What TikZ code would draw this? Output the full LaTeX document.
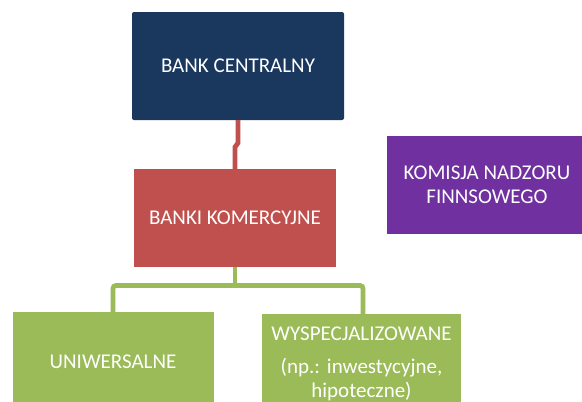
\documentclass[tikz,border=0pt]{standalone}
\usepackage{fontspec}
\setmainfont{Carlito}
\frenchspacing
\definecolor{navy}{HTML}{1A375E}
\definecolor{bred}{HTML}{C0504D}
\definecolor{bgreen}{HTML}{9BBB59}
\definecolor{bpurple}{HTML}{7030A0}
\begin{document}
\begin{tikzpicture}[x=1pt,y=-1pt,
  box/.style={draw=none, text=white, inner sep=0pt, align=center,
    font=\fontsize{21}{24}\selectfont},
  conn/.style={line width=4.8pt}]
\clip (0,0) rectangle (582,402);
\fill[white] (0,0) rectangle (582,402);
\node[box, fill=navy, rounded corners=2pt, minimum width=212pt, minimum height=108pt] (bc) at (238,66) {BANK CENTRALNY};
\node[box, fill=bred, minimum width=202pt, minimum height=98pt] (bk) at (235,218) {BANKI KOMERCYJNE};
\node[box, fill=bpurple, minimum width=200pt, minimum height=98pt] (knf) at (487,184.5) {KOMISJA NADZORU\\FINNSOWEGO};
\node[box, fill=bgreen, minimum width=201pt, minimum height=100pt] (uni) at (113,362) {UNIWERSALNE};
\node[box, fill=bgreen, minimum width=199pt, minimum height=100pt, text width=199pt,
  font=\fontsize{21}{24}\selectfont\frenchspacing] (wys) at (361.5,364) {WYSPECJALIZOWANE\\[9pt](np.: inwestycyjne,\\hipoteczne)};
\coordinate (r1) at (238,143);
\coordinate (r2) at (235,147);
\draw[conn, bred] (bc.south -| r1) -- (r1) -- (r2) -- (bk.north -| r2);
\coordinate (g0) at (235,285.5);
\coordinate (gl) at (113,285.5);
\coordinate (gr) at (363,285.5);
\draw[conn, bgreen] (bk.south -| g0) -- (g0);
\draw[conn, bgreen, rounded corners=3pt] (uni.north -| gl) -- (gl) -- (gr) -- (wys.north -| gr);
\end{tikzpicture}
\end{document}
